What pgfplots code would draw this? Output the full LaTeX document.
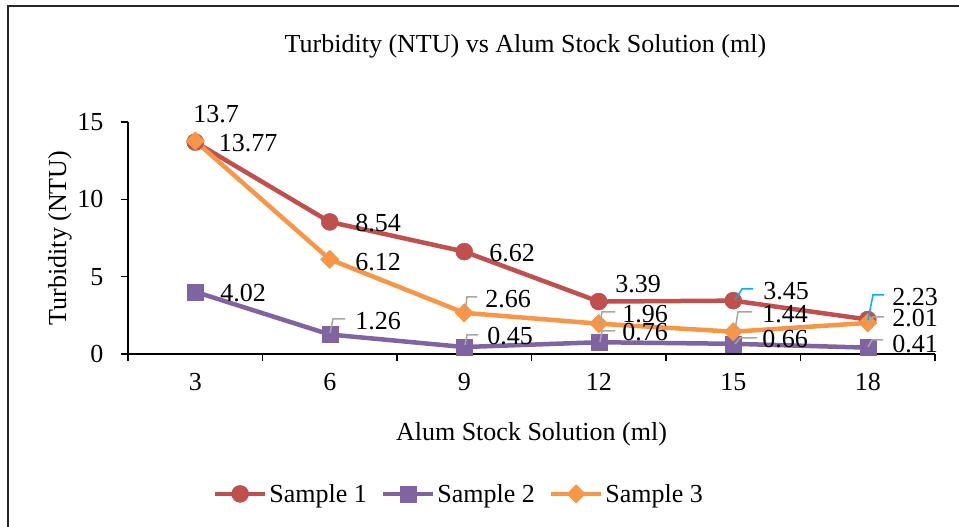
\documentclass[border=0pt]{standalone}
\usepackage{pgfplots}
\pgfplotsset{compat=1.18}
\usepackage{fontspec}
\setmainfont{Liberation Serif}
\definecolor{sA}{HTML}{C0504D}
\definecolor{sB}{HTML}{8064A2}
\definecolor{sC}{HTML}{F79646}
\definecolor{ldr}{HTML}{A6A6A6}
\definecolor{ldb}{HTML}{00B0F0}
\begin{document}
\begin{tikzpicture}[font=\fontsize{26}{30}\selectfont]
\path[use as bounding box] (0,0) rectangle (959pt,527pt);
\draw[line width=1.2pt, black!85] (8pt,-5pt) -- (8pt,521pt) -- (975pt,521pt);
\begin{axis}[
  at={(128pt,173pt)}, anchor=south west,
  scale only axis, width=807pt, height=232pt,
  xmin=1.5, xmax=19.5, ymin=0, ymax=15,
  axis lines*=left,
  axis line style={line width=1.5pt, black},
  xtick={1.5,4.5,7.5,10.5,13.5,16.5,19.5},
  x tick label as interval,
  xticklabels={3,6,9,12,15,18},
  ytick={0,5,10,15},
  tick align=outside, major tick length=7pt,
  tick style={line width=1.5pt, black},
  /pgf/number format/assume math mode=true,
  ticklabel style={font=\fontsize{26}{30}\selectfont},
  xticklabel style={yshift=-9pt},
  yticklabel style={xshift=-14pt},
  title={Turbidity (NTU) vs Alum Stock Solution (ml)},
  title style={at={(axis description cs:0.5,1)}, anchor=center, yshift=70pt, xshift=-6pt},
  xlabel={Alum Stock Solution (ml)},
  xlabel style={at={(axis description cs:0.5,0)}, anchor=center, yshift=-80pt},
  ylabel={Turbidity (NTU)},
  ylabel style={at={(axis description cs:0,0.5)}, anchor=center, yshift=68pt},
  legend columns=3,
  legend style={draw=none, fill=none, at={(axis description cs:0.41,-0.603)}, anchor=center,
    /tikz/every even column/.append style={column sep=12pt},
    font=\fontsize{26}{30}\selectfont},
  legend image code/.code={\draw[mark repeat=2,mark phase=2] plot coordinates {(0pt,0pt) (25pt,0pt) (50pt,0pt)};},
  clip=false,
]
\addplot[sA, line width=4.5pt, mark=*, mark size=8.5pt, mark options={solid, fill=sA, draw=sA, line width=0.5pt}]
  coordinates {(3,13.7)(6,8.54)(9,6.62)(12,3.39)(15,3.45)(18,2.23)};
\addlegendentry{Sample 1}
\addplot[sB, line width=4.5pt, mark=square*, mark size=8pt, mark options={solid, fill=sB, draw=sB, line width=0.5pt}]
  coordinates {(3,4.02)(6,1.26)(9,0.45)(12,0.76)(15,0.66)(18,0.41)};
\addlegendentry{Sample 2}
\addplot[sC, line width=4.5pt, mark=square*, mark size=6.5pt, mark options={solid, fill=sC, draw=sC, line width=0.5pt, rotate=45}]
  coordinates {(3,13.77)(6,6.12)(9,2.66)(12,1.96)(15,1.44)(18,2.01)};
\addlegendentry{Sample 3}
\end{axis}
\begin{scope}[x=1pt, y=-1pt, yshift=527pt]
  % leader lines
  \draw[ldr, line width=1.5pt] (330,333) -- (333,319) -- (345,319);
  \draw[ldr, line width=1.5pt] (465,312) -- (467,297) -- (477,297);
  \draw[ldr, line width=1.5pt] (465,345) -- (467,335) -- (478,335);
  \draw[ldr, line width=1.5pt] (600,323) -- (602,312) -- (615,312);
  \draw[ldr, line width=1.5pt] (600,342) -- (602,331) -- (615,331);
  \draw[ldb, line width=1.5pt] (735,300) -- (742,289) -- (753,289);
  \draw[ldr, line width=1.5pt] (735,330) -- (738,312) -- (752,312);
  \draw[ldr, line width=1.5pt] (735,344) -- (740,338) -- (757,338);
  \draw[ldb, line width=1.5pt] (868,320) -- (873,295) -- (884,295);
  \draw[ldr, line width=1.5pt] (868,322) -- (873,317) -- (884,317);
  \draw[ldr, line width=1.5pt] (868,347) -- (872,340) -- (883,340);
  % Sample 1 labels
  \node[inner sep=0pt] at (216,114) {13.7};
  \node[inner sep=0pt] at (378,223) {8.54};
  \node[inner sep=0pt] at (512,253) {6.62};
  \node[inner sep=0pt] at (638,284) {3.39};
  \node[inner sep=0pt] at (786,291) {3.45};
  \node[inner sep=0pt] at (915,297) {2.23};
  % Sample 3 labels
  \node[inner sep=0pt] at (248,143) {13.77};
  \node[inner sep=0pt] at (378,262) {6.12};
  \node[inner sep=0pt] at (508,299) {2.66};
  \node[inner sep=0pt] at (645,314) {1.96};
  \node[inner sep=0pt] at (785,314) {1.44};
  \node[inner sep=0pt] at (915,318) {2.01};
  % Sample 2 labels
  \node[inner sep=0pt] at (243,293) {4.02};
  \node[inner sep=0pt] at (378,321) {1.26};
  \node[inner sep=0pt] at (510,336) {0.45};
  \node[inner sep=0pt] at (645,332) {0.76};
  \node[inner sep=0pt] at (785,339) {0.66};
  \node[inner sep=0pt] at (915,344) {0.41};
\end{scope}
\end{tikzpicture}
\end{document}
